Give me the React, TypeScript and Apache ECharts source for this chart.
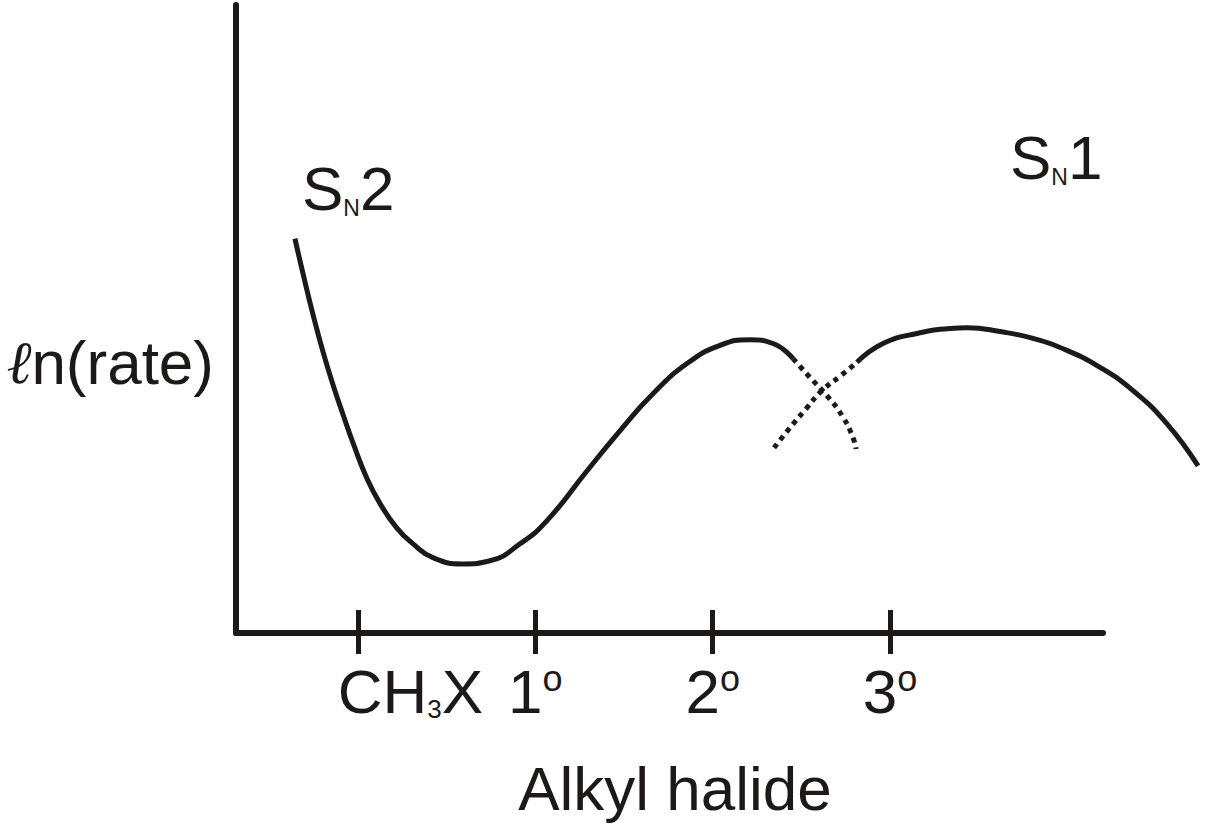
import React, { useEffect, useRef } from "react";
import * as echarts from "echarts";

// ---- data ----
const tickValues = [1, 2, 3, 4];
const tickLabels = ["CH3X", "1o", "2o", "3o"];
const xAxisTitle = "Alkyl halide";
const yAxisTitle = ["\u2113", "n(rate)"];
const sn2Label = ["S", "N", "2"];
const sn1Label = ["S", "N", "1"];

// SN2 curve (solid part), [x, ln(rate)]
const sn2Solid = [
  [0.645, 6.28], [0.69, 5.73], [0.747, 5.07], [0.803, 4.48], [0.86, 3.95],
  [0.916, 3.48], [0.972, 3.03], [1.051, 2.46], [1.125, 2.06], [1.22, 1.67],
  [1.311, 1.42], [1.423, 1.2], [1.592, 1.1], [1.745, 1.15], [1.914, 1.42],
  [2.066, 1.79], [2.291, 2.58], [2.477, 3.22], [2.663, 3.81], [2.855, 4.29],
  [3.041, 4.58], [3.21, 4.67], [3.34, 4.61], [3.453, 4.37],
];
// SN2 curve (dotted continuation)
const sn2Dotted = [
  [3.453, 4.37], [3.548, 4.07], [3.644, 3.78], [3.734, 3.44], [3.791, 3.11], [3.808, 2.93],
];
// SN1 curve (dotted beginning)
const sn1Dotted = [
  [3.346, 2.95], [3.436, 3.27], [3.526, 3.57], [3.616, 3.86], [3.723, 4.1], [3.813, 4.31],
];
// SN1 curve (solid part)
const sn1Solid = [
  [3.813, 4.31], [3.96, 4.61], [4.152, 4.77], [4.338, 4.85], [4.434, 4.86],
  [4.62, 4.8], [4.806, 4.69], [4.997, 4.5], [5.183, 4.23], [5.369, 3.86],
  [5.561, 3.33], [5.736, 2.66],
];

// ---- axis ranges ----
const X_MIN = 0.3128;
const X_MAX_AXIS = 5.2;
const X_MAX_PLOT = 5.7807;
const Y_MIN = 0;
const Y_MAX = 10;

const FONT = '"Liberation Sans", Arial, Helvetica, sans-serif';
const INK = "#1c1918";

function tickFormatter(value: number) {
  const i = tickValues.indexOf(Math.round(value));
  const t = tickLabels[i] ?? "";
  if (t === "CH3X") return "{sp|\u00a0}{a|CH}{s|3}{a|X}";
  const m = t.match(/^(\d)o$/);
  if (m) return `{a|${m[1]}}{o|o}`;
  return `{a|${t}}`;
}

export default function App() {
  const ref = useRef<HTMLDivElement>(null);

  useEffect(() => {
    if (!ref.current) return;
    const chart = echarts.init(ref.current, null, { renderer: "svg" });

    const curveStyle = { color: INK, width: 5 };
    const dotStyle = { color: INK, width: 5, type: [5, 5] as number[] };

    const labelRich = {
      a: { fontSize: 62, fontFamily: FONT, color: INK, lineHeight: 62 },
      s: { fontSize: 26, fontFamily: FONT, color: INK, lineHeight: 15, verticalAlign: "bottom" },
      o: { fontSize: 36, fontFamily: FONT, color: INK, lineHeight: 34, verticalAlign: "top" },
      sp: { width: 105, fontSize: 10, lineHeight: 10 },
    };

    const graphicRich = {
      a: { fontSize: 62, fontFamily: FONT, fill: INK, lineHeight: 62 },
      b: { fontSize: 23, fontFamily: FONT, fill: INK, lineHeight: 11, verticalAlign: "bottom" },
      l: {
        fontSize: 60,
        fontFamily: '"DejaVu Serif", serif',
        fontStyle: "italic",
        fontWeight: "normal",
        fill: INK,
        lineHeight: 62,
      },
    };

    const smooth = 0.5;

    const option: any = {
      animation: false,
      backgroundColor: "#ffffff",
      grid: [
        { left: 236, right: 103, top: 5, bottom: 196 },
        { left: 236, right: 0, top: 5, bottom: 196 },
      ],
      xAxis: [
        {
          type: "value",
          gridIndex: 0,
          position: "bottom",
          min: X_MIN,
          max: X_MAX_AXIS,
          axisLine: { show: true, lineStyle: { color: INK, width: 6 } },
          axisTick: {
            show: true,
            customValues: tickValues,
            inside: false,
            length: 21,
            lineStyle: { color: INK, width: 5 },
          },
          axisLabel: {
            show: true,
            customValues: tickValues,
            margin: 27,
            formatter: tickFormatter,
            rich: labelRich,
          },
          splitLine: { show: false },
          name: xAxisTitle,
          nameLocation: "middle",
          nameGap: 124,
          nameTextStyle: {
            fontSize: 62,
            lineHeight: 62,
            fontFamily: FONT,
            color: INK,
            padding: [0, 0, 0, 11],
          },
        },
        {
          type: "value",
          gridIndex: 0,
          position: "bottom",
          min: X_MIN,
          max: X_MAX_AXIS,
          axisLine: { show: false },
          axisTick: {
            show: true,
            customValues: tickValues,
            inside: true,
            length: 23,
            lineStyle: { color: INK, width: 5 },
          },
          axisLabel: { show: false },
          splitLine: { show: false },
        },
        {
          type: "value",
          gridIndex: 1,
          min: X_MIN,
          max: X_MAX_PLOT,
          show: false,
        },
      ],
      yAxis: [
        {
          type: "value",
          gridIndex: 0,
          min: Y_MIN,
          max: Y_MAX,
          axisLine: { show: true, lineStyle: { color: INK, width: 6 } },
          axisTick: { show: false },
          axisLabel: { show: false },
          splitLine: { show: false },
        },
        {
          type: "value",
          gridIndex: 1,
          min: Y_MIN,
          max: Y_MAX,
          show: false,
        },
      ],
      series: [
        {
          name: "SN2",
          type: "line",
          xAxisIndex: 2,
          yAxisIndex: 1,
          data: sn2Solid,
          smooth,
          symbol: "none",
          lineStyle: curveStyle,
        },
        {
          name: "SN2 (extrapolated)",
          type: "line",
          xAxisIndex: 2,
          yAxisIndex: 1,
          data: sn2Dotted,
          smooth,
          symbol: "none",
          lineStyle: dotStyle,
        },
        {
          name: "SN1 (extrapolated)",
          type: "line",
          xAxisIndex: 2,
          yAxisIndex: 1,
          data: sn1Dotted,
          smooth,
          symbol: "none",
          lineStyle: dotStyle,
        },
        {
          name: "SN1",
          type: "line",
          xAxisIndex: 2,
          yAxisIndex: 1,
          data: sn1Solid,
          smooth,
          symbol: "none",
          lineStyle: curveStyle,
        },
      ],
      graphic: [
        {
          type: "text",
          x: 214,
          y: 362,
          style: {
            text: `{l|${yAxisTitle[0]}}{a|${yAxisTitle[1]}}`,
            rich: graphicRich,
            align: "right",
            verticalAlign: "middle",
          },
        },
        {
          type: "text",
          x: 302,
          y: 188,
          style: {
            text: `{a|${sn2Label[0]}}{b|${sn2Label[1]}}{a|${sn2Label[2]}}`,
            rich: graphicRich,
            align: "left",
            verticalAlign: "middle",
          },
        },
        {
          type: "text",
          x: 1010,
          y: 157,
          style: {
            text: `{a|${sn1Label[0]}}{b|${sn1Label[1]}}{a|${sn1Label[2]}}`,
            rich: graphicRich,
            align: "left",
            verticalAlign: "middle",
          },
        },
      ],
    };

    chart.setOption(option);
    return () => chart.dispose();
  }, []);

  return (
    <div
      ref={ref}
      style={{ position: "absolute", left: 0, top: 0, width: 1206, height: 829, background: "#fff" }}
    />
  );
}
